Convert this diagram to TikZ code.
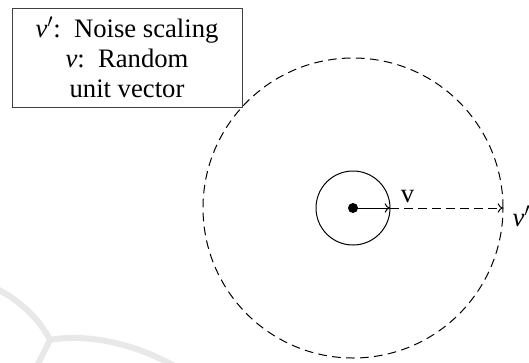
\documentclass[tikz,border=0pt]{standalone}
\usepackage{fontspec}
\setmainfont{Liberation Serif}
\usetikzlibrary{arrows.meta, positioning}

\begin{document}
\begin{tikzpicture}[
  x=0.75pt, y=-0.75pt,
  leyenda/.style={
    rectangle, draw=black!75, line width=0.75pt,
    minimum width=172.5pt, minimum height=74.25pt,
    inner sep=0pt, align=center,
    font=\fontsize{20}{22.5}\selectfont
  },
  circulo/.style={circle, draw, line width=0.75pt, inner sep=0pt, outer sep=0pt},
  etiqueta/.style={font=\fontsize{20}{22}\selectfont, inner sep=1pt},
  flecha/.style={line width=0.75pt, -{To[length=4pt, width=7pt]}},
  marca/.style={draw=black!9, line width=4.5pt, line cap=round}
]

\useasboundingbox (0,0) rectangle (529,362);

% ── FONDO ────────────────────────────────────────────────────
\draw[marca] (-5,288) .. controls (20,300) and (40,320) .. (50,340);
\draw[marca] (50,340) .. controls (80,334) and (130,340) .. (178,368);
\draw[marca] (50,340) -- (36,368);

% ── NODOS ────────────────────────────────────────────────────
\coordinate (centro) at (353,208);

\node[leyenda] (nota) at (127,57.5) {%
  \textit{v}$'$:\, Noise scaling \\
  \textit{v}:\, Random \\
  unit vector
};

\node[circulo, minimum size=55.5pt] (interior) at (centro) {};
\node[circulo, dashed, dash pattern=on 6.5pt off 4pt, minimum size=225pt] (exterior) at (centro) {};
\fill (centro) circle (5);

% ── FLECHAS ──────────────────────────────────────────────────
\draw[flecha] (centro) -- (interior.east);
\draw[flecha, dash pattern=on 6.5pt off 4pt] (interior.east) -- (exterior.east);

\node[etiqueta, above right=3pt and 7pt of interior.east] (lv) {v};
\node[etiqueta, right=6pt of exterior.east, yshift=-6pt] (lvp) {\textit{v}$'$};

\end{tikzpicture}
\end{document}
